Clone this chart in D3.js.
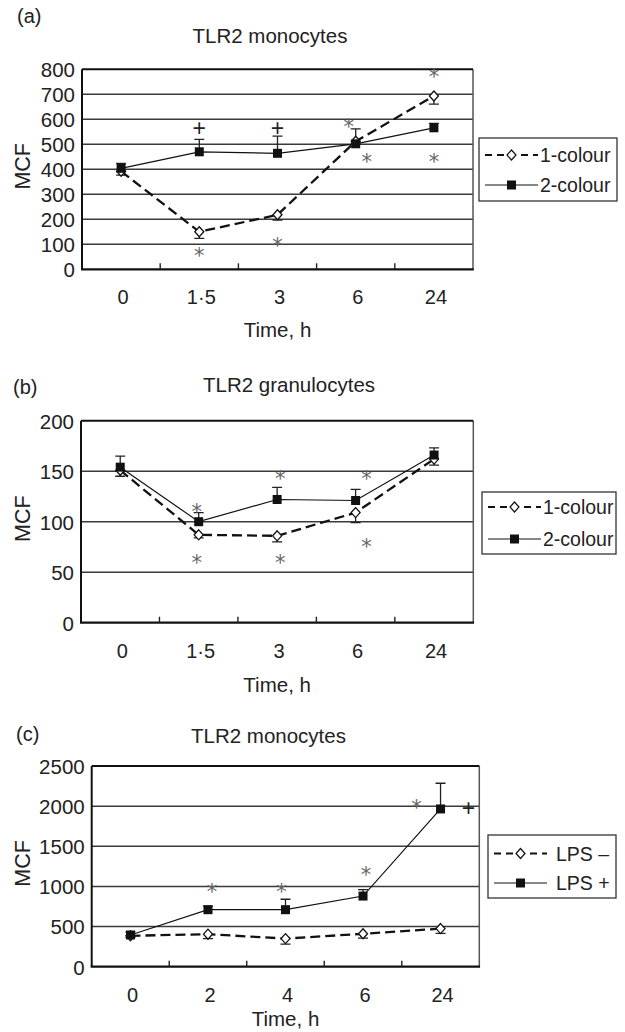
<!DOCTYPE html>
<html><head><meta charset="utf-8">
<script src="https://cdn.jsdelivr.net/npm/d3@7"></script>
<style>
html,body{margin:0;padding:0;background:#fff;}
svg text{font-family:"Liberation Sans",Arial,Helvetica,sans-serif;fill:#222;}
</style></head>
<body>
<svg id="chart" width="625" height="1032"></svg>
<script>
// ---------- data ----------
const timesA = ["0", "1·5", "3", "6", "24"];
const oneColourA = [392, 150, 218, 512, 693];
const oneColourErrA = [15, 26, 21, 10, 32];
const twoColourA = [404, 470, 464, 502, 566];
const twoColourErrA = [20, 50, 69, 60, 18];
const yTicksA = [0, 100, 200, 300, 400, 500, 600, 700, 800];
const marksA = [
  {t: "1·5", v: 68, s: "*"}, {t: "3", v: 108, s: "*"},
  {t: "6", v: 584, s: "*", dx: -7}, {t: "6", v: 446, s: "*", dx: 11},
  {t: "24", v: 786, s: "*"}, {t: "24", v: 446, s: "*"},
  {t: "1·5", v: 566, s: "+"}, {t: "3", v: 566, s: "+"}
];

const timesB = ["0", "1·5", "3", "6", "24"];
const oneColourB = [151, 87, 86, 109, 162];
const oneColourErrB = [6, 3, 6, 10, 6];
const twoColourB = [154, 100, 122, 121, 166];
const twoColourErrB = [11, 9, 12, 11, 7];
const yTicksB = [0, 50, 100, 150, 200];
const marksB = [
  {t: "1·5", v: 113, s: "*", dx: -2}, {t: "1·5", v: 63, s: "*", dx: -2},
  {t: "3", v: 146, s: "*", dx: 3}, {t: "3", v: 63, s: "*", dx: 3},
  {t: "6", v: 146, s: "*", dx: 11}, {t: "6", v: 79, s: "*", dx: 11}
];

const timesC = ["0", "2", "4", "6", "24"];
const lpsMinus = [385, 405, 350, 410, 475];
const lpsMinusErr = [20, 55, 70, 55, 60];
const lpsPlus = [395, 710, 710, 880, 1965];
const lpsPlusErr = [40, 45, 130, 80, 320];
const yTicksC = [0, 500, 1000, 1500, 2000, 2500];
const marksC = [
  {t: "2", v: 984, s: "*", dx: 4}, {t: "4", v: 984, s: "*", dx: -4},
  {t: "6", v: 1192, s: "*", dx: 3}, {t: "24", v: 2022, s: "*", dx: -24},
  {t: "24", v: 1973, s: "+", dx: 28}
];

// ---------- layout ----------
const panels = [
  {label: "(a)", title: "TLR2 monocytes", cats: timesA, yTicks: yTicksA,
   open: {name: "1-colour", v: oneColourA, e: oneColourErrA},
   filled: {name: "2-colour", v: twoColourA, e: twoColourErrA}, marks: marksA,
   x0: 82, x1: 473, yT: 69.3, yB: 269.3, labelPos: [17, 23], titlePos: [270, 42.5],
   legend: {x: 479, y: 138, w: 138, h: 63, r1: 155, r2: 185, lx0: 485, lx1: 538, tx: 540},
   timeY: 337},
  {label: "(b)", title: "TLR2 granulocytes", cats: timesB, yTicks: yTicksB,
   open: {name: "1-colour", v: oneColourB, e: oneColourErrB},
   filled: {name: "2-colour", v: twoColourB, e: twoColourErrB}, marks: marksB,
   x0: 81, x1: 473.3, yT: 420.7, yB: 622.7, labelPos: [13, 394], titlePos: [289, 391.5],
   legend: {x: 482, y: 492, w: 134, h: 62, r1: 507, r2: 539, lx0: 488, lx1: 541, tx: 543},
   timeY: 692},
  {label: "(c)", title: "TLR2 monocytes", cats: timesC, yTicks: yTicksC,
   open: {name: "LPS \u2013", v: lpsMinus, e: lpsMinusErr},
   filled: {name: "LPS +", v: lpsPlus, e: lpsPlusErr}, marks: marksC,
   x0: 91.7, x1: 479.3, yT: 766, yB: 966.7, labelPos: [16, 741], titlePos: [268.5, 743],
   legend: {x: 488, y: 835, w: 128, h: 63, r1: 853.5, r2: 883, lx0: 494, lx1: 547, tx: 556},
   timeY: 1026}
];

const svg = d3.select("#chart");
const diamond = (cx, cy) => `M${cx},${cy - 5}L${cx + 4.5},${cy}L${cx},${cy + 5}L${cx - 4.5},${cy}Z`;

panels.forEach(p => {
  const g = svg.append("g");
  const x = d3.scaleBand().domain(p.cats).range([p.x0, p.x1]);
  const y = d3.scaleLinear().domain([0, d3.max(p.yTicks)]).range([p.yB, p.yT]);
  const cx = c => x(c) + x.bandwidth() / 2;

  // gridlines
  g.selectAll(".grid").data(p.yTicks.filter(t => t > 0 && t < d3.max(p.yTicks)))
    .join("line").attr("x1", p.x0).attr("x2", p.x1)
    .attr("y1", d => y(d)).attr("y2", d => y(d))
    .attr("stroke", "#3a3a3a").attr("stroke-width", 1.5);

  // frame
  g.append("line").attr("x1", p.x1).attr("x2", p.x1).attr("y1", p.yT).attr("y2", p.yB)
    .attr("stroke", "#555").attr("stroke-width", 1.5);
  g.append("line").attr("x1", p.x0).attr("x2", p.x1).attr("y1", p.yT).attr("y2", p.yT)
    .attr("stroke", "#111").attr("stroke-width", 2);
  g.append("line").attr("x1", p.x0).attr("x2", p.x0).attr("y1", p.yT).attr("y2", p.yB)
    .attr("stroke", "#111").attr("stroke-width", 2);
  g.append("line").attr("x1", p.x0 - 1).attr("x2", p.x1 + 0.75).attr("y1", p.yB).attr("y2", p.yB)
    .attr("stroke", "#111").attr("stroke-width", 2.2);

  // category boundary ticks
  g.selectAll(".ctick").data(p.cats.slice(1)).join("line")
    .attr("x1", d => x(d)).attr("x2", d => x(d))
    .attr("y1", p.yB).attr("y2", p.yB - 6)
    .attr("stroke", "#222").attr("stroke-width", 1.4);

  // y axis labels
  const ya = g.append("g").attr("transform", `translate(${p.x0 - 7},0)`)
    .call(d3.axisLeft(y).tickValues(p.yTicks).tickSize(0).tickPadding(0).tickFormat(d3.format("d")));
  ya.select(".domain").remove();
  ya.selectAll("text").attr("font-size", 20.5).attr("font-family", null).attr("fill", "#222").attr("dy", "0.36em");

  // x axis labels
  const xa = g.append("g").attr("transform", `translate(0,${p.yB})`)
    .call(d3.axisBottom(x).tickSize(0).tickPadding(0));
  xa.select(".domain").remove();
  xa.selectAll("text").attr("font-size", 20).attr("font-family", null).attr("fill", "#222")
    .attr("y", 0).attr("dy", 35).attr("dx", 2);

  // titles
  g.append("text").attr("x", p.labelPos[0]).attr("y", p.labelPos[1]).attr("font-size", 20).text(p.label);
  g.append("text").attr("x", p.titlePos[0]).attr("y", p.titlePos[1]).attr("text-anchor", "middle")
    .attr("font-size", 20.5).text(p.title);
  g.append("text").attr("transform", `translate(30,${(p.yT + p.yB) / 2 - 3}) rotate(-90)`)
    .attr("text-anchor", "middle").attr("font-size", 21.5).text("MCF");
  g.append("text").attr("x", (p.x0 + p.x1) / 2).attr("y", p.timeY).attr("text-anchor", "middle")
    .attr("font-size", 20.5).text("Time, h");

  // error bars
  const errs = (s, dir) => {
    g.selectAll(null).data(p.cats).join("path")
      .attr("d", (c, i) => {
        const xc = cx(c), y0 = y(s.v[i]), y1 = y(s.v[i] + dir * s.e[i]);
        return `M${xc},${y0}V${y1}M${xc - 5},${y1}H${xc + 5}`;
      })
      .attr("stroke", "#222").attr("stroke-width", 1.3).attr("fill", "none");
  };
  errs(p.filled, 1);
  errs(p.open, -1);

  // lines
  const line = s => d3.line().x((d, i) => cx(p.cats[i])).y(d => y(d))(s.v);
  g.append("path").attr("d", line(p.open)).attr("fill", "none").attr("stroke", "#111")
    .attr("stroke-width", 2.3).attr("stroke-dasharray", "10,5");
  g.append("path").attr("d", line(p.filled)).attr("fill", "none").attr("stroke", "#111")
    .attr("stroke-width", 1.2);

  // markers
  g.selectAll(null).data(p.open.v).join("path")
    .attr("d", (d, i) => diamond(cx(p.cats[i]), y(d)))
    .attr("fill", "#fff").attr("stroke", "#111").attr("stroke-width", 1.3);
  g.selectAll(null).data(p.filled.v).join("rect")
    .attr("x", (d, i) => cx(p.cats[i]) - 4.5).attr("y", d => y(d) - 4.5)
    .attr("width", 9).attr("height", 9).attr("fill", "#111");

  // significance marks
  g.selectAll(null).data(p.marks).join("text")
    .attr("x", d => cx(d.t) + (d.dx || 0)).attr("y", d => y(d.v))
    .attr("text-anchor", "middle")
    .attr("dy", d => d.s === "*" ? "0.52em" : "0.34em")
    .attr("font-size", d => d.s === "*" ? 21 : 23)
    .style("font-family", d => d.s === "*" ? "DejaVu Sans" : "Liberation Sans")
    .style("fill", d => d.s === "*" ? "#666" : "#222")
    .text(d => d.s);

  // legend
  const L = p.legend;
  g.append("rect").attr("x", L.x).attr("y", L.y).attr("width", L.w).attr("height", L.h)
    .attr("fill", "#fff").attr("stroke", "#333").attr("stroke-width", 1.3);
  const mid = (L.lx0 + L.lx1) / 2;
  g.append("line").attr("x1", L.lx0).attr("x2", L.lx1).attr("y1", L.r1).attr("y2", L.r1)
    .attr("stroke", "#111").attr("stroke-width", 2).attr("stroke-dasharray", "7,5");
  g.append("path").attr("d", diamond(mid, L.r1)).attr("fill", "#fff").attr("stroke", "#111").attr("stroke-width", 1.2);
  g.append("line").attr("x1", L.lx0).attr("x2", L.lx1).attr("y1", L.r2).attr("y2", L.r2)
    .attr("stroke", "#111").attr("stroke-width", 1.1);
  g.append("rect").attr("x", mid - 4.5).attr("y", L.r2 - 4.5).attr("width", 9).attr("height", 9).attr("fill", "#111");
  g.append("text").attr("x", L.tx).attr("y", L.r1).attr("dy", "0.36em").attr("font-size", 19.5).text(p.open.name);
  g.append("text").attr("x", L.tx).attr("y", L.r2).attr("dy", "0.36em").attr("font-size", 19.5).text(p.filled.name);
});
</script>
</body></html>
